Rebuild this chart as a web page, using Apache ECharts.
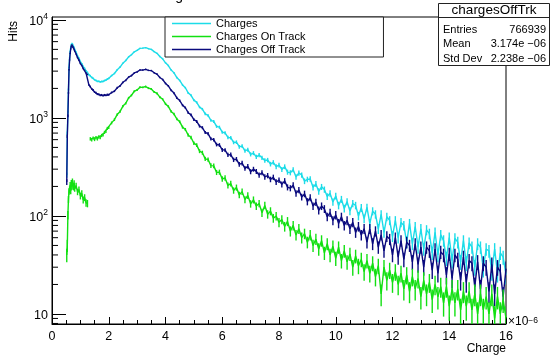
<!DOCTYPE html>
<html><head><meta charset="utf-8">
<script src="https://cdn.jsdelivr.net/npm/echarts@6/dist/echarts.min.js"></script>
<style>html,body{margin:0;padding:0;background:#fff}#c{width:552px;height:358px}</style>
</head><body><div id="c"></div>
<script>
// Bin centres (units of 1e-6)
const charge = [0.52,0.54,0.56,0.58,0.60,0.62,0.64,0.66,0.68,0.70,0.72,0.74,0.76,0.78,0.80,
0.85,0.90,0.95,1.00,1.05,1.10,1.15,1.20,1.25,1.30,1.35,1.40,1.45,1.50,1.55,1.60,1.65,1.70,1.75,1.80,1.85,1.90,1.95,2.00,
2.1,2.2,2.3,2.4,2.5,2.6,2.7,2.8,2.9,3.0,
3.1,3.2,3.3,3.4,3.5,3.6,3.7,3.8,3.9,4.0,
4.1,4.2,4.3,4.4,4.5,4.6,4.7,4.8,4.9,5.0,
5.1,5.2,5.3,5.4,5.5,5.6,5.7,5.8,5.9,6.0,
6.1,6.2,6.3,6.4,6.5,6.6,6.7,6.8,6.9,7.0,
7.1,7.2,7.3,7.4,7.5,7.6,7.7,7.8,7.9,8.0,
8.1,8.2,8.3,8.4,8.5,8.6,8.7,8.8,8.9,9.0,
9.1,9.2,9.3,9.4,9.5,9.6,9.7,9.8,9.9,10.0,
10.1,10.2,10.3,10.4,10.5,10.6,10.7,10.8,10.9,11.0,
11.1,11.2,11.3,11.4,11.5,11.6,11.7,11.8,11.9,12.0,
12.1,12.2,12.3,12.4,12.5,12.6,12.7,12.8,12.9,13.0,
13.1,13.2,13.3,13.4,13.5,13.6,13.7,13.8,13.9,14.0,
14.1,14.2,14.3,14.4,14.5,14.6,14.7,14.8,14.9,15.0,
15.1,15.2,15.3,15.4,15.5,15.6,15.7,15.8,15.9,16.0];

const chargesAll = [262,700,1150,1950,3275,4090,4755,5250,5635,5770,5720,5565,5370,5170,5010,
4680,4300,4060,3760,3580,3350,3210,3020,2920,2760,2700,2590,2540,2450,2420,2360,2370,2335,2360,2355,2410,2430,2500,2530,
2700,2840,3100,3300,3620,3850,4190,4410,4730,4890,
5120,5150,5210,5080,5000,4740,4560,4230,4000,3650,
3420,3080,2880,2580,2410,2170,2030,1800,1700,1520,
1440,1290,1230,1100,1060,945,920,820,805,715,
705,632,628,562,566,508,515,462,474,425,
438,400,418,392,368,372,338,352,318,330,
298,318,280,276,296,250,274,262,226,236,
238,196,212,178,198,186,158,170,139,160,
128,148,119,140,112,134,128,100,121,94,
122,84,112,104,74,104,68,98,90,62,
90,60,86,80,54,84,52,78,48,74,
46,72,66,42,68,40,64,56,37,60,
35,59,54,34,56,33,53,48,30,52,
48,29,46,44,27,46,26,42,38,25];

const chargesOnTrack = [40,50,102,148,178,186,208,180,218,198,226,204,196,216,190,
204,176,186,160,170,146,154,136,134,null,612,598,622,604,628,612,640,630,662,672,712,728,782,800,
890,960,1085,1165,1320,1410,1600,1700,1870,1930,
2055,2050,2090,2010,1970,1840,1780,1630,1550,1390,
1310,1160,1095,975,915,805,762,668,632,552,
528,458,442,382,376,326,324,278,280,238,
244,205,214,182,195,164,177,147,162,133,
146,126,134,108,128,104,112,95,100,86,
92,78,88,70,80,64,74,60,66,54,
64,50,58,46,56,42,52,40,49,37,
48,35,44,34,41,30,39,31,36,27,
35,26,33,24,31,16,30,22,28,21,
27,20,26,18,25,17,24,18,23,15,
22,16,21,14,20,15,19,13,19,12,
18,13,18,11,17,12,17,11,16,10,
16,11,15,10,16,9,15,10,14,9];

const chargesOffTrack = [222,650,1050,1800,3100,3900,4550,5050,5420,5560,5500,5350,5160,4960,4810,
4480,4120,3880,3590,3420,3190,3060,2870,2780,2170,2090,1980,1925,1840,1810,1750,1745,1705,1715,1690,1715,1700,1730,1725,
1815,1875,2030,2120,2310,2420,2605,2700,2875,2945,
3080,3075,3130,3055,3040,2885,2795,2585,2465,2250,
2120,1910,1790,1600,1505,1350,1270,1130,1075,960,
920,825,795,710,690,612,600,535,530,472,
470,420,422,374,380,336,346,306,320,283,
300,284,262,276,250,258,236,248,222,232,
210,228,196,192,206,170,184,156,168,140,
154,126,138,114,126,118,98,108,90,102,
84,98,80,90,74,86,68,78,64,74,
54,74,52,70,48,64,44,62,58,40,
60,38,56,36,54,50,34,52,32,48,
30,48,44,28,46,26,43,40,25,41,
23,40,36,22,38,21,35,33,19,34,
18,33,30,17,32,16,30,27,15,29];

const yMinorTickValues = [8,9,20,30,40,50,60,70,80,90,200,300,400,500,600,700,800,900,2000,3000,4000,5000,6000,7000,8000,9000];
const seriesNames = ['Charges','Charges On Track','Charges Off Track'];
const statsTitle = 'chargesOffTrk';
const statsRows = [['Entries','766939'],['Mean','3.174e \u221206'],['Std Dev','2.238e \u221206']];

const FONT = '"Liberation Sans", Arial, Helvetica, sans-serif';
const C_ALL = '#1cdce8', C_ON = '#12e012', C_OFF = '#0a0a7e';
const LW = 1.4;

const toPairs = arr => charge.map((x, i) => [x, arr[i] == null ? '-' : arr[i]]);

function lineSeries(name, arr, color, z) {
  return {type:'line', name, data: toPairs(arr), color, showSymbol:false, symbol:'none',
    lineStyle:{color, width:LW}, itemStyle:{color}, z, clip:true, connectNulls:false, animation:false, silent:true};
}
function errSeries(name, arr, color, z) {
  return {type:'custom', name, coordinateSystem:'cartesian2d', data: toPairs(arr), clip:true, z, silent:true, animation:false,
    renderItem: (params, api) => {
      const x = api.value(0), y = api.value(1);
      if (!(y > 0)) return null;
      const e = Math.sqrt(y);
      const p1 = api.coord([x, y + e]);
      const p2 = api.coord([x, Math.max(y - e, 0.5)]);
      return {type:'line', shape:{x1:p1[0], y1:p1[1], x2:p2[0], y2:p2[1]}, style:{stroke:color, lineWidth:LW}};
    }};
}

const chart = echarts.init(document.getElementById('c'), null, {renderer:'canvas'});
const option = {
  animation:false,
  backgroundColor:'#fff',
  title:{text:'Charges', left:145, top:-11, padding:0, textStyle:{fontSize:14, fontWeight:'normal', fontFamily:FONT, color:'#000'}},
  grid:{left:52, right:46, top:17, bottom:34, show:true, borderColor:'#000', borderWidth:1, backgroundColor:'transparent'},
  legend:{data:seriesNames, orient:'vertical', left:165, top:17, itemWidth:39, itemHeight:1.5, itemGap:0, itemTextGap:6,
    icon:'rect', padding:[0,78,1,7], backgroundColor:'#fff', borderColor:'#222', borderWidth:1, selectedMode:false, z:50,
    textStyle:{fontSize:11, lineHeight:13, fontFamily:FONT, color:'#000'}},
  xAxis:{type:'value', min:0, max:16, interval:2,
    name:'Charge', nameLocation:'end', nameGap:0,
    nameTextStyle:{fontSize:12, fontFamily:FONT, color:'#000', align:'right', verticalAlign:'top', padding:[19,0,0,0]},
    axisLine:{show:true, onZero:false, lineStyle:{color:'#000', width:1}},
    axisTick:{show:true, inside:true, length:7, lineStyle:{color:'#000'}},
    minorTick:{show:true, splitNumber:4, length:4, lineStyle:{color:'#000'}},
    splitLine:{show:false},
    axisLabel:{fontSize:12.5, fontFamily:FONT, color:'#000', margin:6}},
  yAxis:{type:'log', logBase:10, min:7.9, max:10700,
    name:'Hits', nameLocation:'end', nameRotate:90, nameGap:-4,
    nameTextStyle:{fontSize:12, fontFamily:FONT, color:'#000', align:'right', verticalAlign:'bottom', padding:[0,0,32,0]},
    axisLine:{show:true, lineStyle:{color:'#000', width:1}},
    axisTick:{show:true, inside:true, length:14, lineStyle:{color:'#000'}},
    splitLine:{show:false},
    axisLabel:{margin:4, showMinLabel:false, showMaxLabel:false, color:'#000',
      formatter: v => {
        const e = Math.log10(v), r = Math.round(e);
        if (Math.abs(e - r) > 0.01) return '';
        return r === 1 ? '{b|10}' : '{b|10}{s|' + r + '}';
      },
      rich:{b:{fontSize:12.5, fontFamily:FONT, color:'#000', lineHeight:16, verticalAlign:'bottom'},
            s:{fontSize:8.5, fontFamily:FONT, color:'#000', lineHeight:8, verticalAlign:'top'}}}},
  series:[
    lineSeries(seriesNames[0], chargesAll, C_ALL, 2),
    errSeries('err0', chargesAll, C_ALL, 2),
    lineSeries(seriesNames[2], chargesOffTrack, C_OFF, 3),
    errSeries('err2', chargesOffTrack, C_OFF, 3),
    lineSeries(seriesNames[1], chargesOnTrack, C_ON, 4),
    errSeries('err1', chargesOnTrack, C_ON, 4),
    {type:'custom', name:'yMinorTicks', coordinateSystem:'cartesian2d', silent:true, z:10, clip:false,
     data: yMinorTickValues.map(v => [0, v]),
     renderItem:(params, api) => {
       const p = api.coord([0, api.value(1)]);
       return {type:'line', shape:{x1:p[0], y1:p[1], x2:p[0] + 6, y2:p[1]}, style:{stroke:'#000', lineWidth:1}};
     }}
  ],
  graphic:[
    {type:'text', x:508, y:322, z:60, style:{text:'\u00d710{s|\u22126}', fontSize:12, fontFamily:FONT, fill:'#000', verticalAlign:'middle',
      rich:{s:{fontSize:8.5, fontFamily:FONT, fill:'#000', verticalAlign:'top', lineHeight:8}}}},
    {type:'group', z:100, children:[
      {type:'rect', shape:{x:438.5, y:3.5, width:111, height:62}, style:{fill:'#fff', stroke:'#222', lineWidth:1}},
      {type:'line', shape:{x1:438.5, y1:17.5, x2:549.5, y2:17.5}, style:{stroke:'#222', lineWidth:1}},
      {type:'text', x:494, y:10.5, style:{text:statsTitle, fontSize:13.5, fontFamily:FONT, fill:'#000', align:'center', verticalAlign:'middle'}},
      ...statsRows.flatMap((r, i) => [
        {type:'text', x:443, y:29.5 + i * 14.5, style:{text:r[0], fontSize:11, fontFamily:FONT, fill:'#000', align:'left', verticalAlign:'middle'}},
        {type:'text', x:546, y:29.5 + i * 14.5, style:{text:r[1], fontSize:11, fontFamily:FONT, fill:'#000', align:'right', verticalAlign:'middle'}}
      ])
    ]}
  ]
};
chart.setOption(option);
</script></body></html>
